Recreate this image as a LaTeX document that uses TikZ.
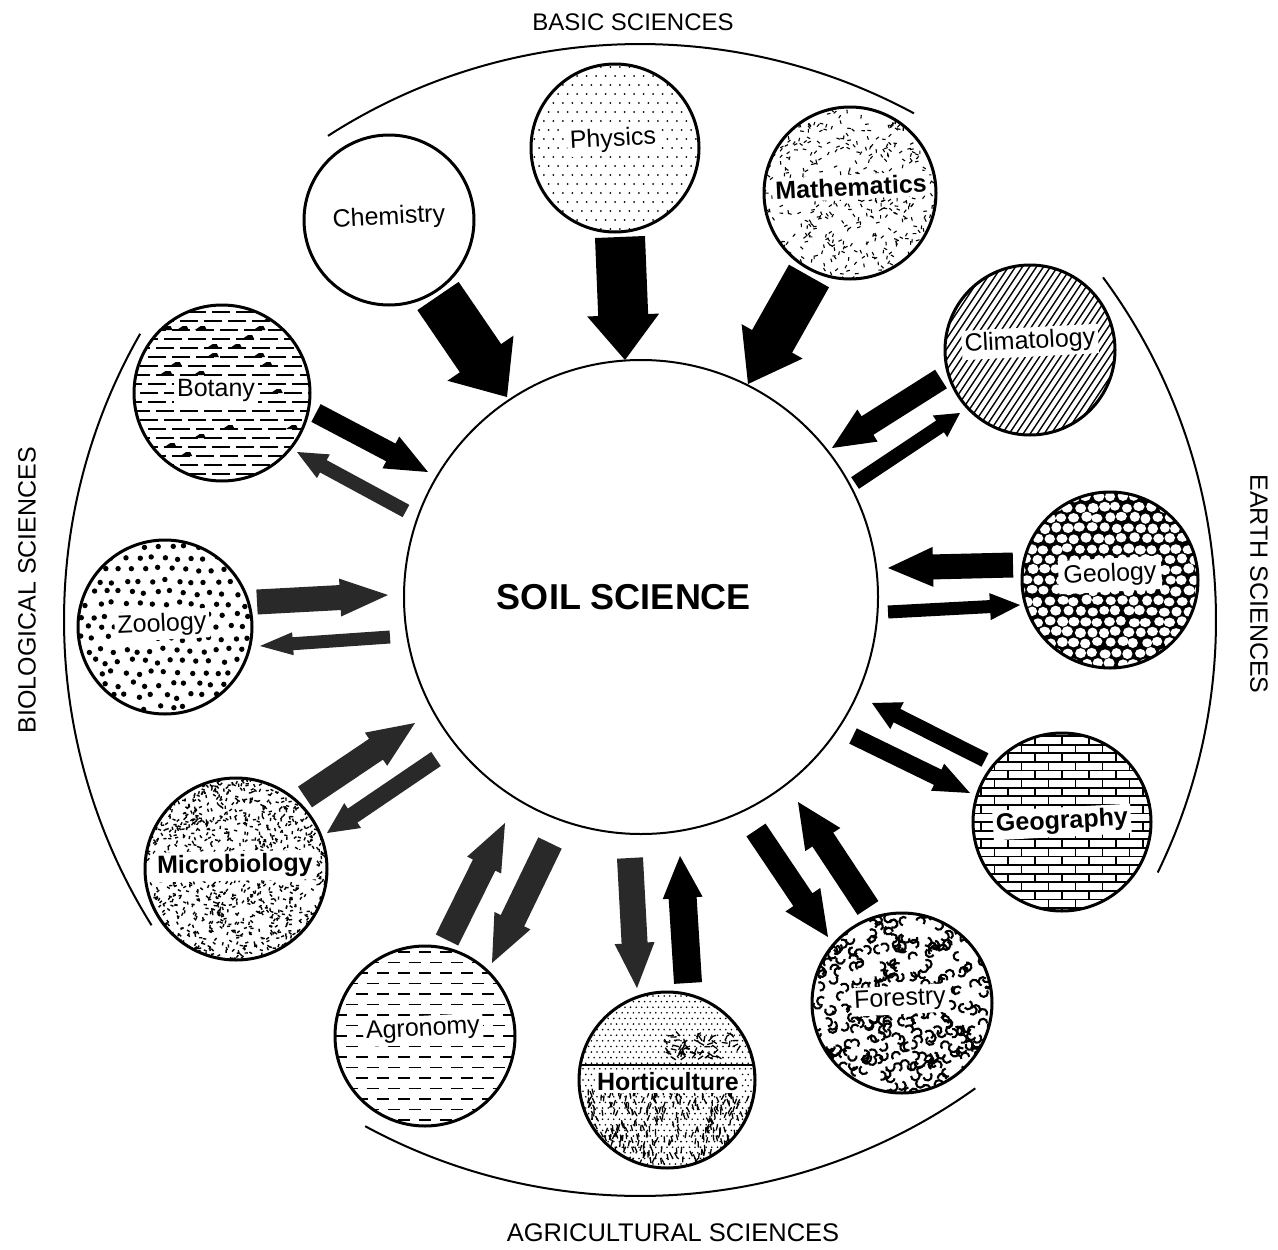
\documentclass[tikz,border=0pt]{standalone}
\usepackage{fontspec}
\setmainfont{Liberation Sans}
\usetikzlibrary{calc}
\definecolor{ardk}{gray}{0.16}
\newcommand\labsize{\fontsize{25}{28}\selectfont}
% ---------- fill textures (drawn relative to circle centre, pixel units) ----------
\newcommand\patPhys{\foreach \j in {-10,...,10}{\foreach \i in {-10,...,10}{\fill[black] ({\i*9.5+mod(abs(\j),2)*4.75},{\j*9}) circle[radius=1pt];}}}
\newcommand\patMath{\pgfmathsetseed{11}\foreach \k in {1,...,560}{\pgfmathsetmacro\xx{rand*90}\pgfmathsetmacro\yy{rand*90}\pgfmathsetmacro\aa{rnd*180}\draw[black, line width=1.1pt] (\xx,\yy) -- ++(\aa:3.6pt);}}
\newcommand\patClim{\foreach \k in {-224,-217,...,224}{\draw[black, line width=1.4pt] (\k-70,105) -- (\k+70,-105);}}
\newcommand\patGeol{\fill[black] (-100,-100) rectangle (100,100);\pgfmathsetseed{5}\foreach \j in {-10,...,10}{\foreach \i in {-9,...,9}{\pgfmathsetmacro\xx{\i*12+mod(abs(\j),2)*6+rand*1.2}\pgfmathsetmacro\yy{\j*10.4+rand*1.2}\pgfmathsetmacro\rx{4.9+rnd*0.8}\pgfmathsetmacro\ry{4.4+rnd*0.8}\pgfmathsetmacro\ra{rnd*180}\fill[white, rotate around={\ra:(\xx,\yy)}] (\xx,\yy) ellipse[x radius=\rx pt, y radius=\ry pt];}}}
\newcommand\patGeog{\foreach \j in {-11,...,11}{\draw[black, line width=1.8pt] (-100,{\j*8.6}) -- (100,{\j*8.6});\foreach \i in {-4,...,4}{\draw[black, line width=1.6pt] ({\i*27+mod(abs(\j),2)*13.5},{\j*8.6}) -- ++(0,8.6);}}}
\newcommand\patFore{\pgfmathsetseed{7}\foreach \k in {1,...,400}{\pgfmathsetmacro\xx{rand*95}\pgfmathsetmacro\yy{rand*95}\pgfmathsetmacro\aa{rnd*360}\draw[black, line width=2.1pt] (\xx,\yy) arc[start angle=\aa, end angle=\aa+210, radius=4.2pt];}}
\newcommand\patHort{\foreach \j in {-16,...,16}{\foreach \i in {-16,...,16}{\fill[black] ({\i*5.6+mod(abs(\j),2)*2.8},{\j*5.6}) circle[radius=0.9pt];}}\pgfmathsetseed{3}\foreach \k in {1,...,300}{\pgfmathsetmacro\xx{rand*80}\pgfmathsetmacro\yy{12+rnd*75}\pgfmathsetmacro\aa{60+rnd*60}\draw[black, line width=1.3pt] (\xx,\yy) -- ++(\aa:6pt);}\foreach \k in {1,...,60}{\pgfmathsetmacro\xx{rnd*70}\pgfmathsetmacro\yy{-45+rnd*25}\pgfmathsetmacro\aa{rnd*180}\draw[black, line width=1.3pt] (\xx,\yy) -- ++(\aa:6pt);}\draw[black, line width=2.2pt] (-100,-15) -- (100,-15);}
\newcommand\patAgro{\foreach \j in {-9,...,9}{\foreach \i in {-5,...,5}{\draw[black, line width=1.8pt] ({\i*21+mod(abs(\j),2)*10.5-6},{\j*10.5}) -- ++(12,0);}}}
\newcommand\patMicro{\pgfmathsetseed{9}\foreach \k in {1,...,1300}{\pgfmathsetmacro\xx{rand*93}\pgfmathsetmacro\yy{rand*93}\pgfmathsetmacro\aa{rnd*180}\draw[black, line width=1.4pt] (\xx,\yy) -- ++(\aa:3.2pt);}}
\newcommand\patZoo{\pgfmathsetseed{4}\foreach \j in {-8,...,8}{\foreach \i in {-8,...,8}{\pgfmathsetmacro\xx{\i*13+mod(abs(\j),2)*6.5+rand*2.5}\pgfmathsetmacro\yy{\j*11.5+rand*2.5}\fill[black] (\xx,\yy) circle[radius=2.7pt];}}}
\newcommand\patBot{\foreach \j in {-10,...,10}{\foreach \i in {-5,...,5}{\draw[black, line width=2pt] ({\i*24+mod(abs(\j),3)*8-10},{\j*9}) -- ++(18,0);}}\pgfmathsetseed{2}\foreach \k in {1,...,25}{\pgfmathsetmacro\xx{rand*80}\pgfmathsetmacro\yy{round(rand*9)*9}\fill[black] (\xx,\yy) -- ++(6,-4) -- ++(4,0) -- ++(2,4) -- cycle;}}
% ---------- block arrow: [colour]{tail}{tip}{shaft width}{head width}{head length} ----------
\newcommand\blockarrow[6][black]{%
  \pgfmathsetmacro\bwa{#4/2}%
  \pgfmathsetmacro\bha{#5/2}%
  \coordinate (bab) at ($(#3)!#6pt!(#2)$);%
  \fill[#1] ($(#2)!\bwa pt!90:(#3)$) -- ($(bab)!\bwa pt!90:(#3)$) -- ($(bab)!\bha pt!90:(#3)$) -- (#3)
     -- ($(bab)!\bha pt!-90:(#3)$) -- ($(bab)!\bwa pt!-90:(#3)$) -- ($(#2)!\bwa pt!-90:(#3)$) -- cycle;%
}
\begin{document}
\begin{tikzpicture}[x=1pt, y=-1pt,
  sat/.style={circle, draw, fill=white, line width=3pt, inner sep=0pt},
  pp/.style={path picture={\begin{scope}[shift={(path picture bounding box.center)}]#1\end{scope}}},
  lab/.style={fill=white, inner sep=3pt, font=\labsize, rotate=3},
  labb/.style={lab, font=\labsize\bfseries},
  grp/.style={font=\fontsize{#1}{28}\selectfont, inner sep=0pt},
  bigarc/.style={line width=2pt}]
\useasboundingbox (0,0) rectangle (1278,1250);
\fill[white] (0,0) rectangle (1278,1250);

% group arcs
\coordinate (bigC) at (640,620);
\draw[bigarc] (bigC) ++(122.8:576pt) arc[start angle=122.8, end angle=61.6, radius=576pt];
\draw[bigarc] (bigC) ++(36.5:576pt) arc[start angle=36.5, end angle=-26, radius=576pt];
\draw[bigarc] (bigC) ++(-54.4:576pt) arc[start angle=-54.4, end angle=-118.5, radius=576pt];
\draw[bigarc] (bigC) ++(150.2:576pt) arc[start angle=150.2, end angle=212, radius=576pt];

\node[grp=24] (basic) at (633,22) {BASIC SCIENCES};
\node[grp=25.5] (agri) at (673,1233) {AGRICULTURAL SCIENCES};
\node[grp=25, rotate=-90] (earth) at (1259,584) {EARTH SCIENCES};
\node[grp=25, rotate=90] (bio) at (27,590) {BIOLOGICAL SCIENCES};

% central circle
\node[circle, draw, line width=2pt, minimum size=474pt, inner sep=0pt] (soil) at (641,597) {};
\node[font=\fontsize{36}{40}\selectfont\bfseries] (soil-l) at (624,597) {SOIL SCIENCE};

% satellite circles
\node[sat, minimum size=170pt] (chem) at (389,220) {};
\node[sat, minimum size=168pt, pp=\patPhys] (phys) at (615,148) {};
\node[sat, minimum size=172pt, pp=\patMath] (math) at (850,193) {};
\node[sat, minimum size=170pt, pp=\patClim] (clim) at (1030,350) {};
\node[sat, minimum size=176pt, pp=\patGeol] (geol) at (1110,580) {};
\node[sat, minimum size=178pt, pp=\patGeog] (geog) at (1062,822) {};
\node[sat, minimum size=180pt, pp=\patFore] (fore) at (902,1003) {};
\node[sat, minimum size=176pt, pp=\patHort] (hort) at (667,1080) {};
\node[sat, minimum size=180pt, pp=\patAgro] (agro) at (425,1036) {};
\node[sat, minimum size=182pt, pp=\patMicro] (micro) at (236,869) {};
\node[sat, minimum size=174pt, pp=\patZoo] (zoo) at (165,627) {};
\node[sat, minimum size=176pt, pp=\patBot] (bot) at (222,393) {};

% labels
\node[lab] (chem-l) at (389,218) {Chemistry};
\node[lab] (phys-l) at (613,140) {Physics};
\node[labb] (math-l) at (851,187) {Mathematics};
\node[lab] (clim-l) at (1030,342) {Climatology};
\node[lab, inner sep=5pt] (geol-l) at (1110,575) {Geology};
\node[labb] (geog-l) at (1062,822) {Geography};
\node[lab] (fore-l) at (900,1000) {Forestry};
\node[labb, rotate=-3, inner sep=2pt] (hort-l) at (668,1082) {Horticulture};
\node[lab] (agro-l) at (423,1030) {Agronomy};
\node[labb, rotate=-2] (micro-l) at (235,866) {Microbiology};
\node[lab] (zoo-l) at (162,625) {Zoology};
\node[lab, rotate=-3] (bot-l) at (216,390) {Botany};

% arrow end points
\coordinate (chemT) at (438,296);   \coordinate (chemH) at (507,397);
\coordinate (physT) at (620,237);   \coordinate (physH) at (625,360);
\coordinate (mathT) at (809,276);   \coordinate (mathH) at (748,384);
\coordinate (climT) at (941,379);   \coordinate (climH) at (832,448);
\coordinate (climOT) at (855,483);  \coordinate (climOH) at (960,413);
\coordinate (geolT) at (1013,565);  \coordinate (geolH) at (888,568);
\coordinate (geolOT) at (888,612);  \coordinate (geolOH) at (1020,605);
\coordinate (geogT) at (985,760);   \coordinate (geogH) at (872,703);
\coordinate (geogOT) at (853,736);  \coordinate (geogOH) at (970,793);
\coordinate (foreOT) at (756,830);  \coordinate (foreOH) at (828,937);
\coordinate (foreT) at (868,908);   \coordinate (foreH) at (798,802);
\coordinate (hortOT) at (630,858);  \coordinate (hortOH) at (637,988);
\coordinate (hortT) at (688,983);   \coordinate (hortH) at (680,856);
\coordinate (agroT) at (447,940);   \coordinate (agroH) at (505,823);
\coordinate (agroOT) at (550,843);  \coordinate (agroOH) at (492,963);
\coordinate (microT) at (305,797);  \coordinate (microH) at (415,723);
\coordinate (microOT) at (436,759); \coordinate (microOH) at (327,833);
\coordinate (zooT) at (257,602);    \coordinate (zooH) at (388,595);
\coordinate (zooOT) at (390,637);   \coordinate (zooOH) at (260,646);
\coordinate (botT) at (316,413);    \coordinate (botH) at (428,472);
\coordinate (botOT) at (406,511);   \coordinate (botOH) at (297,452);

% arrows
\blockarrow{chemT}{chemH}{50}{80}{47}
\blockarrow{physT}{physH}{50}{72}{45}
\blockarrow{mathT}{mathH}{46}{70}{49}
\blockarrow{climT}{climH}{22}{38}{42}
\blockarrow{climOT}{climOH}{14}{26}{24}
\blockarrow{geolT}{geolH}{25}{40}{45}
\blockarrow{geolOT}{geolOH}{13}{27}{30}
\blockarrow{geogT}{geogH}{15}{30}{28}
\blockarrow{geogOT}{geogOH}{17}{30}{36}
\blockarrow{foreOT}{foreOH}{23}{42}{45}
\blockarrow{foreT}{foreH}{25}{42}{45}
\blockarrow[ardk]{hortOT}{hortOH}{26}{40}{45}
\blockarrow{hortT}{hortH}{28}{40}{42}
\blockarrow[ardk]{agroT}{agroH}{25}{38}{47}
\blockarrow[ardk]{agroOT}{agroOH}{26}{40}{47}
\blockarrow[ardk]{microT}{microH}{25}{40}{47}
\blockarrow[ardk]{microOT}{microOH}{17}{30}{31}
\blockarrow[ardk]{zooT}{zooH}{25}{38}{48}
\blockarrow[ardk]{zooOT}{zooOH}{13}{23}{33}
\blockarrow{botT}{botH}{20}{36}{42}
\blockarrow[ardk]{botOT}{botOH}{14}{27}{30}
\end{tikzpicture}
\end{document}
